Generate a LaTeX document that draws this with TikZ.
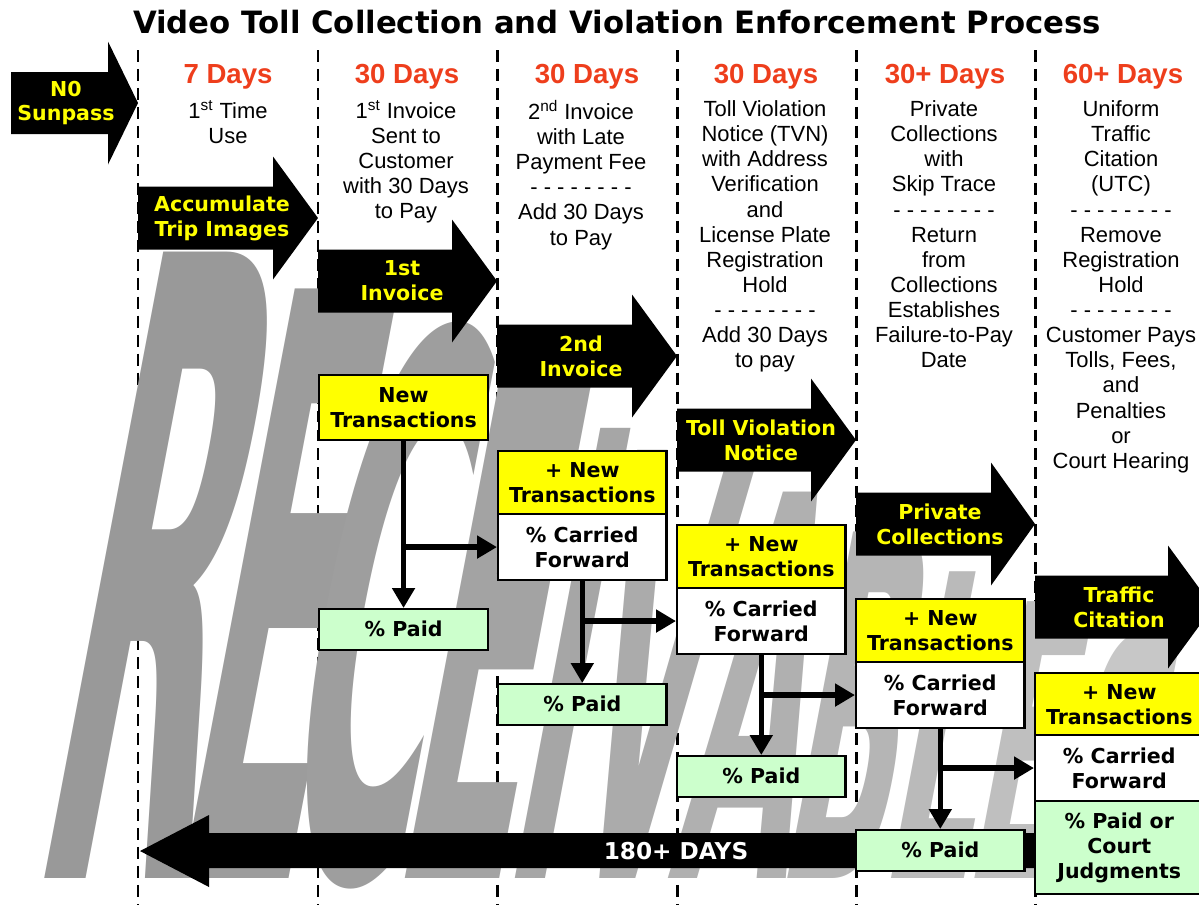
\documentclass[tikz,border=0pt]{standalone}
\usepackage{fontspec}
\setmainfont{Liberation Sans}
\newfontfamily\heavyfont{DejaVu Sans}
\newcommand\hvy{\heavyfont\bfseries}
\usetikzlibrary{arrows.meta}
\definecolor{hdred}{RGB}{238,62,28}
\definecolor{lblyellow}{RGB}{255,255,0}
\definecolor{paidgreen}{RGB}{204,255,204}
\definecolor{boxyellow}{RGB}{255,255,0}
\newcommand\wmfont{\heavyfont\bfseries\fontsize{10pt}{12pt}\selectfont}
% #1 name, #2 letter, #3 bottom-left x, #4 height px, #5 width px, #6 advance em, #7 gray percent
\newcommand\wml[7]{%
  \begin{scope}[shift={(#3,878)}, xslant=0.19, xscale={#5/(#6*17.64)}, yscale={#4/12.86}]
    \node[transform shape, anchor=base west, inner sep=0, font=\wmfont, text=black!#7] (#1) at (0,0) {#2};
  \end{scope}}
\newcommand\blockarrow[5]{%
  \fill[black] (#1,#4-#5) -- (#2,#4-#5) -- (#2,#4-61.5) -- (#3,#4) -- (#2,#4+61.5) -- (#2,#4+#5) -- (#1,#4+#5) -- cycle;}
\begin{document}
\begin{tikzpicture}[x=0.02cm,y=-0.02cm,
  dashline/.style={line width=1.7pt, dash pattern=on 6.8pt off 4pt},
  hdr/.style={font=\bfseries\fontsize{15.7pt}{18pt}\selectfont, text=hdred, anchor=base, inner sep=0},
  desc/.style={font=\fontsize{12.5pt}{14.3pt}\selectfont, align=center, anchor=north, inner sep=0, execute at begin node=\strut},
  lbl/.style={font=\hvy\fontsize{11.7pt}{14.2pt}\selectfont, text=lblyellow, align=center, inner sep=0},
  box/.style={draw=black, line width=1.2pt, minimum width=3.37cm, inner sep=0, anchor=north west, align=center, font=\hvy\fontsize{11.7pt}{14.2pt}\selectfont},
  ybox/.style={box, fill=boxyellow, minimum height=1.26cm},
  wbox/.style={box, fill=white, minimum height=1.32cm},
  pbox/.style={box, fill=paidgreen, minimum height=0.81cm},
  conn/.style={line width=0.11cm, -{Triangle[width=0.44cm,length=0.4cm]}}
]
\useasboundingbox (0,0) rectangle (1199,904);
\fill[white] (0,0) rectangle (1199,904);

% column separators
\foreach \xx in {138,318,497,677,856,1035} \draw[dashline] (\xx,50) -- (\xx,904);

% watermark
\wml{wmR}{R}{20}{629}{170}{0.770}{40}
\wml{wmE}{E}{160}{592}{140}{0.683}{39}
\wml{wmC}{C}{262}{549}{145}{0.734}{38}
\wml{wmEb}{E}{385}{494}{125}{0.683}{36}
\wml{wmI}{I}{497}{452}{60}{0.372}{35}
\wml{wmV}{V}{552}{430}{125}{0.774}{33}
\wml{wmA}{A}{664}{388}{120}{0.774}{31}
\wml{wmB}{B}{772}{348}{110}{0.762}{29}
\wml{wmL}{L}{876}{308}{90}{0.637}{27}
\wml{wmEc}{E}{960}{278}{92}{0.683}{25}
\wml{wmS}{S}{1050}{244}{100}{0.720}{22}

% block arrows
\blockarrow{11}{108}{138}{103}{31}
\blockarrow{138}{273}{318}{218}{31.5}
\blockarrow{318}{452}{497}{281}{31.5}
\blockarrow{497}{632}{677}{356}{31.5}
\blockarrow{677}{811}{856}{440}{31.5}
\blockarrow{856}{991}{1035}{524}{31.5}
\blockarrow{1035}{1168}{1213}{607}{31.5}

% 180+ days arrow
\fill[black] (1035,833) -- (209,833) -- (209,815) -- (140,851) -- (209,887) -- (209,868) -- (1035,868) -- cycle;
\node[font=\hvy\fontsize{13.2pt}{15pt}\selectfont, text=white, inner sep=0] (days) at (676,851) {180+ DAYS};

% boxes
\node[box, fill=boxyellow, minimum width=3.38cm, minimum height=1.30cm] (b2y) at (318,374) {New\\Transactions};
\node[pbox, minimum width=3.38cm] (b2p) at (318,608) {\%~Paid};

\node[ybox] (b3y) at (497,450) {+ New\\Transactions};
\node[wbox] (b3w) at (497,513) {\%~Carried\\Forward};
\node[pbox] (b3p) at (497,683) {\%~Paid};

\node[ybox] (b4y) at (676,524) {+ New\\Transactions};
\node[wbox] (b4w) at (676,587) {\%~Carried\\Forward};
\node[pbox] (b4p) at (676,755) {\%~Paid};

\node[ybox] (b5y) at (855,598) {+ New\\Transactions};
\node[wbox] (b5w) at (855,661) {\%~Carried\\Forward};
\node[pbox] (b5p) at (855,829) {\%~Paid};

\node[ybox] (b6y) at (1034,672) {+ New\\Transactions};
\node[wbox] (b6w) at (1034,734) {\%~Carried\\Forward};
\node[box, fill=paidgreen, minimum height=1.86cm] (b6g) at (1034,800) {\%~Paid or\\Court\\Judgments};

% connectors
\draw[conn] (b2y.south) -- (b2p.north);
\draw[conn] (b2y.south |- b3w.west) -- (b3w.west);
\draw[conn] (b3w.south) -- (b3p.north);
\draw[conn] (b3w.south |- b4w.west) -- (b4w.west);
\draw[conn] (b4w.south) -- (b4p.north);
\draw[conn] (b4w.south |- b5w.west) -- (b5w.west);
\draw[conn] (b5w.south) -- (b5p.north);
\draw[conn] (b5w.south |- b6w.west) -- (b6w.west);

% arrow labels
\node[lbl] (l0) at (66,103) {N0\\Sunpass};
\node[lbl] (l1) at (222,218) {Accumulate\\Trip Images};
\node[lbl] (l2) at (402,281) {1st\\Invoice};
\node[lbl] (l3) at (581,356) {2nd\\Invoice};
\node[lbl] (l4) at (761,440) {Toll Violation\\Notice};
\node[lbl] (l5) at (940,524) {Private\\Collections};
\node[lbl] (l6) at (1119,607) {Traffic\\Citation};

% title
\node[font=\hvy\fontsize{17.5pt}{20pt}\selectfont, anchor=base, inner sep=0] (title) at (617,33) {Video Toll Collection and Violation Enforcement Process};

% headings
\node[hdr] (h1) at (228,83) {7 Days};
\node[hdr] (h2) at (407,83) {30 Days};
\node[hdr] (h3) at (587,83) {30 Days};
\node[hdr] (h4) at (766,83) {30 Days};
\node[hdr] (h5) at (945,83) {30+ Days};
\node[hdr] (h6) at (1123,83) {60+ Days};

% descriptions
\node[desc] (d1) at (228,100.3) {1\textsuperscript{st} Time\\Use};
\node[desc] (d2) at (406,100.3) {1\textsuperscript{st} Invoice\\Sent to\\Customer\\with 30 Days\\to Pay};
\node[desc] (d3) at (581,100.3) {2\textsuperscript{nd} Invoice\\with Late\\Payment Fee\\- - - - - - - -\\Add 30 Days\\to Pay};
\node[desc] (d4) at (765,100.3) {Toll Violation\\Notice (TVN)\\with Address\\Verification\\and\\License Plate\\Registration\\Hold\\- - - - - - - -\\Add 30 Days\\to pay};
\node[desc] (d5) at (944,100.3) {Private\\Collections\\with\\Skip Trace\\- - - - - - - -\\Return\\from\\Collections\\Establishes\\Failure-to-Pay\\Date};
\node[desc] (d6) at (1121,100.3) {Uniform\\Traffic\\Citation\\(UTC)\\- - - - - - - -\\Remove\\Registration\\Hold\\- - - - - - - -\\Customer Pays\\Tolls, Fees,\\and\\Penalties\\or\\Court Hearing};
\end{tikzpicture}
\end{document}
